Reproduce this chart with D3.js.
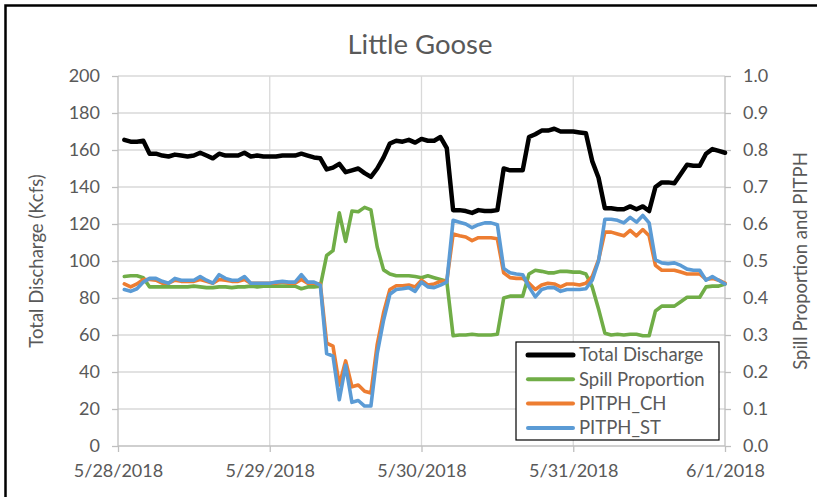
<!DOCTYPE html>
<html>
<head>
<meta charset="utf-8">
<script src="https://cdn.jsdelivr.net/npm/d3@7/dist/d3.min.js"></script>
<style>
  html, body { margin: 0; padding: 0; background: #fff; }
  svg { display: block; }
  text { font-family: "Lato", "Open Sans", sans-serif; fill: #595959; }
</style>
</head>
<body>
<svg id="chart" width="817" height="497"></svg>
<script>
// ---------------- DATA ----------------
const title = "Little Goose";
const leftTitle = "Total Discharge (Kcfs)";
const rightTitle = "Spill Proportion and PITPH";
const seriesNames = ["Total Discharge", "Spill Proportion", "PITPH_CH", "PITPH_ST"];
const seriesColors = ["#000000", "#70ad47", "#ed7d31", "#5b9bd5"];
const startDate = "2018-05-28T00:00:00";
const dayTicks = ["2018-05-28", "2018-05-29", "2018-05-30", "2018-05-31", "2018-06-01"];
const leftTicks = [0, 20, 40, 60, 80, 100, 120, 140, 160, 180, 200];
const rightTicks = [0, 0.1, 0.2, 0.3, 0.4, 0.5, 0.6, 0.7, 0.8, 0.9, 1.0];

// hours after 5/28/2018 00:00
const hours = [1,2,3,4,5,6,7,8,9,10,11,12,13,14,15,16,17,18,19,20,21,22,23,24,
  25,26,27,28,29,30,31,32,33,34,35,36,37,38,39,40,41,42,43,44,45,46,47,48,
  49,50,51,52,53,54,55,56,57,58,59,60,61,62,63,64,65,66,67,68,69,70,71,72,
  73,74,75,76,77,78,79,80,81,82,83,84,85,86,87,88,89,90,91,92,93,94,95,96];

const totalDischarge = [165.5,164.5,164.5,165,158,158,157,156.5,157.5,157,156.5,157,158.5,157,155.5,158,157,157,157,158.5,156.5,157,156.5,156.5,
  156.5,157,157,157,158,157,156,155.5,149.5,150.5,152.5,148,149,150,147.5,145.5,150,156,163.5,165,164.5,165.5,164,166,
  165,165,167,161,127.5,127.5,127,126,127.5,127,127,127.5,150,149,149,149,167,168.5,170.5,170.5,171.5,170,170,170,
  169.5,169,154,145,128.5,128.5,128,128,129.5,128,129.5,127,140,142.5,142.5,142,147,152,151.5,151.5,158,160.5,159.5,158.5];

const spillProportion = [.458,.46,.46,.455,.43,.43,.43,.43,.43,.43,.43,.432,.43,.428,.428,.43,.43,.428,.43,.43,.432,.43,.432,.432,
  .432,.432,.432,.432,.425,.43,.43,.432,.515,.528,.63,.553,.635,.633,.645,.638,.538,.476,.465,.46,.46,.46,.458,.455,
  .46,.455,.45,.445,.298,.3,.3,.302,.3,.3,.3,.302,.4,.405,.405,.405,.465,.475,.472,.468,.468,.472,.472,.47,
  .47,.465,.43,.37,.305,.3,.302,.3,.302,.302,.298,.298,.365,.378,.378,.378,.39,.402,.402,.402,.43,.432,.432,.438];

const pitphCH = [.438,.43,.438,.45,.45,.448,.44,.44,.448,.445,.445,.445,.45,.445,.44,.45,.448,.445,.445,.45,.44,.44,.44,.44,
  .44,.443,.44,.44,.45,.44,.44,.438,.278,.27,.165,.23,.16,.165,.148,.143,.275,.36,.423,.433,.433,.435,.43,.448,
  .435,.438,.445,.445,.573,.568,.565,.555,.563,.563,.563,.56,.468,.455,.453,.453,.44,.423,.435,.44,.438,.43,.438,.438,
  .435,.44,.458,.503,.578,.578,.573,.568,.583,.568,.585,.568,.488,.475,.475,.475,.47,.465,.465,.465,.45,.453,.448,.44];

const pitphST = [.423,.418,.425,.443,.453,.453,.445,.44,.453,.448,.448,.448,.458,.448,.44,.463,.453,.448,.448,.458,.44,.44,.44,.44,
  .443,.445,.443,.443,.463,.443,.443,.435,.25,.243,.125,.218,.118,.123,.108,.108,.25,.34,.41,.423,.425,.428,.418,.443,
  .43,.428,.435,.443,.61,.605,.6,.59,.598,.603,.603,.598,.48,.468,.465,.463,.43,.403,.423,.428,.428,.418,.423,.423,
  .423,.425,.448,.5,.613,.613,.61,.603,.618,.605,.623,.603,.503,.495,.493,.495,.488,.478,.475,.475,.448,.458,.448,.438];

// ---------------- LAYOUT ----------------
const W = 817, H = 497;
const plot = { left: 118, right: 725, top: 76, bottom: 446 };

const svg = d3.select("#chart");

// outer chart border (top & left visible)
svg.append("rect")
  .attr("x", 5.5).attr("y", 5.5)
  .attr("width", W + 10).attr("height", H + 10)
  .attr("fill", "#fff").attr("stroke", "#000").attr("stroke-width", 2.5);

const t0 = new Date(startDate);
const timeOf = h => new Date(t0.getTime() + h * 3600 * 1000);
const parseDay = d3.timeParse("%Y-%m-%d");
const dayDates = dayTicks.map(parseDay);

const x = d3.scaleTime().domain([dayDates[0], dayDates[dayDates.length - 1]]).range([plot.left, plot.right]);
const yL = d3.scaleLinear().domain([0, 200]).range([plot.bottom, plot.top]);
const yR = d3.scaleLinear().domain([0, 1]).range([plot.bottom, plot.top]);

// gridlines
const grid = svg.append("g");
grid.selectAll("line.h").data(leftTicks.filter(v => v > 0)).join("line")
  .attr("x1", plot.left).attr("x2", plot.right)
  .attr("y1", d => yL(d)).attr("y2", d => yL(d))
  .attr("stroke", "#d9d9d9").attr("stroke-width", 1.3);
grid.selectAll("line.v").data(dayDates.slice(1, -1)).join("line")
  .attr("x1", d => x(d)).attr("x2", d => x(d))
  .attr("y1", plot.top).attr("y2", plot.bottom)
  .attr("stroke", "#d9d9d9").attr("stroke-width", 1.3);

// axes
function styleAxis(g) {
  g.selectAll("path, line").attr("stroke", "#bfbfbf").attr("stroke-width", 1.3);
  g.selectAll("text").style("font-size", "18px").attr("fill", "#595959");
}
svg.append("g").attr("transform", `translate(${plot.left},0)`)
  .call(d3.axisLeft(yL).tickValues(leftTicks).tickSize(6).tickPadding(12).tickSizeOuter(0).tickFormat(d3.format("d")))
  .call(styleAxis).call(g => g.select(".domain").remove())
  .call(g => g.append("line").attr("y1", plot.top).attr("y2", plot.bottom).attr("stroke", "#bfbfbf").attr("stroke-width", 1.3));

svg.append("g").attr("transform", `translate(${plot.right},0)`)
  .call(d3.axisRight(yR).tickValues(rightTicks).tickSize(6).tickPadding(12).tickSizeOuter(0).tickFormat(d3.format(".1f")))
  .call(styleAxis).call(g => g.select(".domain").remove())
  .call(g => g.append("line").attr("y1", plot.top).attr("y2", plot.bottom).attr("stroke", "#bfbfbf").attr("stroke-width", 1.3));

svg.append("g").attr("transform", `translate(0,${plot.bottom})`)
  .call(d3.axisBottom(x).tickValues(dayDates).tickSize(6).tickPadding(12).tickSizeOuter(0).tickFormat(d3.timeFormat("%-m/%-d/%Y")))
  .call(styleAxis).call(g => g.select(".domain").remove())
  .call(g => g.append("line").attr("x1", plot.left).attr("x2", plot.right).attr("stroke", "#bfbfbf").attr("stroke-width", 1.3));

// titles
svg.append("text").attr("x", 420).attr("y", 54).attr("text-anchor", "middle")
  .style("font-size", "27.5px").text(title);
svg.append("text").attr("transform", `translate(43,${(plot.top + plot.bottom) / 2}) rotate(-90)`)
  .attr("text-anchor", "middle").style("font-size", "18.5px").text(leftTitle);
svg.append("text").attr("transform", `translate(807,${(plot.top + plot.bottom) / 2}) rotate(-90)`)
  .attr("text-anchor", "middle").style("font-size", "18.5px").text(rightTitle);

// lines
const series = [
  { values: totalDischarge, y: yL, width: 4.5 },
  { values: spillProportion, y: yR, width: 3.6 },
  { values: pitphCH, y: yR, width: 3.6 },
  { values: pitphST, y: yR, width: 3.6 }
];
series.forEach((s, i) => {
  const line = d3.line().x((d, j) => x(timeOf(hours[j]))).y(d => s.y(d));
  svg.append("path").datum(s.values)
    .attr("d", line).attr("fill", "none")
    .attr("stroke", seriesColors[i]).attr("stroke-width", s.width)
    .attr("stroke-linejoin", "round").attr("stroke-linecap", "round");
});

// legend
const lg = svg.append("g").attr("transform", "translate(516,342)");
lg.append("rect").attr("width", 203).attr("height", 98)
  .attr("fill", "#fff").attr("stroke", "#000").attr("stroke-width", 1.2);
seriesNames.forEach((name, i) => {
  const yy = 13 + i * 24.3;
  lg.append("line").attr("x1", 12).attr("x2", 57).attr("y1", yy).attr("y2", yy)
    .attr("stroke", seriesColors[i]).attr("stroke-width", i === 0 ? 5 : 4).attr("stroke-linecap", "round");
  lg.append("text").attr("x", 63).attr("y", yy).attr("dy", "0.35em")
    .style("font-size", "18.5px").text(name);
});
</script>
</body>
</html>
